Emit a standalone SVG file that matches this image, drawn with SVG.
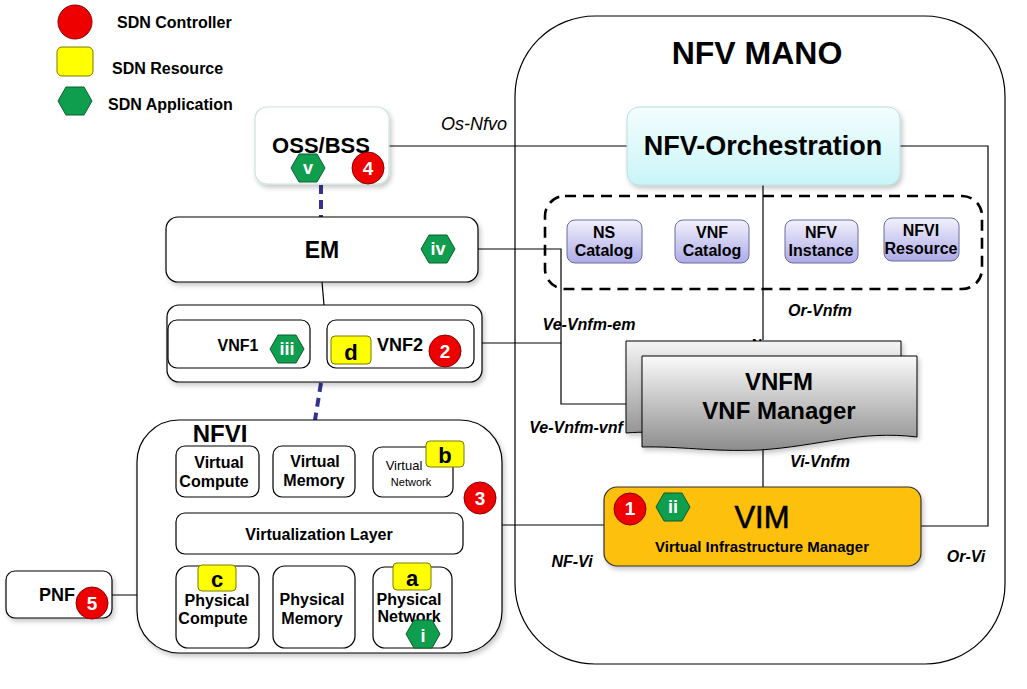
<svg xmlns="http://www.w3.org/2000/svg" width="1027" height="689" viewBox="0 0 1027 689">
<defs>
<style>
text{font-family:"Liberation Sans",Arial,sans-serif;fill:#000}
.b{font-weight:bold}
.lbl{font-style:italic;font-weight:bold;font-size:16px}
.box{fill:#fff;stroke:#000;stroke-width:1.2}
.ln{fill:none;stroke:#000;stroke-width:1.2}
.yel{fill:#ffff00;stroke:#7a7a00;stroke-width:1}
.red{fill:#ee0000;stroke:#8a0000;stroke-width:1}
.hexs{fill:#0f9d4e;stroke:#0a5e2e;stroke-width:1}
.num{fill:#fff;font-weight:bold;font-size:19px;text-anchor:middle}
.hnum{fill:#fff;font-weight:bold;font-size:18px;text-anchor:middle}
.cat{fill:url(#gcat);stroke:#6a6aa0;stroke-width:1}
.catt{font-weight:bold;font-size:16px;text-anchor:middle}
.comp{font-weight:bold;font-size:16px;text-anchor:middle}
.dash{fill:none;stroke:#33338f;stroke-width:4;stroke-dasharray:9 6}
</style>
<linearGradient id="gorch" x1="0" y1="0" x2="0" y2="1"><stop offset="0" stop-color="#f4fdfd"/><stop offset="1" stop-color="#c9f5f8"/></linearGradient>
<linearGradient id="gcat" x1="0" y1="0" x2="0" y2="1"><stop offset="0" stop-color="#f2f1fc"/><stop offset="1" stop-color="#adaae6"/></linearGradient>
<linearGradient id="gdoc" x1="0" y1="0" x2="0" y2="1"><stop offset="0" stop-color="#fafafa"/><stop offset="1" stop-color="#8c8c8c"/></linearGradient>
<linearGradient id="gdoc2" x1="0" y1="0" x2="0" y2="1"><stop offset="0" stop-color="#f5f5f5"/><stop offset="1" stop-color="#909090"/></linearGradient>
<filter id="sh" x="-10%" y="-10%" width="130%" height="140%"><feDropShadow dx="2" dy="3" stdDeviation="2.5" flood-color="#000" flood-opacity="0.22"/></filter>
<polygon id="hex" points="-17,0 -9,-14 9,-14 17,0 9,14 -9,14"/>
</defs>
<rect width="1027" height="689" fill="#fff"/>

<g id="legend">
<circle class="red" cx="75" cy="22" r="17"/>
<text class="b" x="117" y="28" font-size="16">SDN Controller</text>
<rect class="yel" x="57" y="47" width="36" height="29" rx="5"/>
<text class="b" x="112" y="74" font-size="16">SDN Resource</text>
<use href="#hex" x="75" y="101" class="hexs"/>
<text class="b" x="108" y="110" font-size="16">SDN Application</text>
</g>

<g id="mano">
<rect x="515" y="16" width="490" height="648" rx="80" fill="#fff" stroke="#000" stroke-width="1.2"/>
<text class="b" x="757" y="64" font-size="32" text-anchor="middle">NFV MANO</text>
</g>

<g id="connectors">
<polyline class="ln" points="389,146 627,146"/>
<polyline class="ln" points="900,146 988,146 988,526 921,526" stroke="#666"/>
<polyline class="ln" points="763,185 763,340"/>
<polyline class="ln" points="478,249 561,249 561,404 642,404"/>
<polyline class="ln" points="482,343 561,343"/>
<polyline class="ln" points="763,447 763,487"/>
<polyline class="ln" points="502,525 604,525"/>
<polyline class="ln" points="322,282 324,305"/>
<polyline class="ln" points="112,595 160,595"/>
<line class="dash" x1="321" y1="185" x2="321" y2="217"/>
<line class="dash" x1="321" y1="383" x2="315" y2="420"/>
<text x="474" y="130" font-size="18" font-style="italic" text-anchor="middle">Os-Nfvo</text>
<text class="lbl" x="820" y="316" text-anchor="middle">Or-Vnfm</text>
<text class="lbl" x="589" y="330" text-anchor="middle">Ve-Vnfm-em</text>
<text class="lbl" x="576" y="433" text-anchor="middle">Ve-Vnfm-vnf</text>
<text class="lbl" x="820" y="467" text-anchor="middle">Vi-Vnfm</text>
<text class="lbl" x="572" y="567" text-anchor="middle">NF-Vi</text>
<text class="lbl" x="966" y="562" text-anchor="middle">Or-Vi</text>
</g>

<g id="orchestration">
<rect x="627" y="107" width="273" height="78" rx="12" fill="url(#gorch)" stroke="#b8dede" stroke-width="1" filter="url(#sh)"/>
<text class="b" x="763" y="155" font-size="27" text-anchor="middle">NFV-Orchestration</text>
</g>

<g id="repositories">
<rect x="545" y="196" width="437" height="93" rx="20" fill="none" stroke="#000" stroke-width="2.6" stroke-dasharray="11 7"/>
<g id="ns-catalog"><rect class="cat" x="567" y="220" width="75" height="43" rx="8"/><text class="catt" x="604" y="238">NS</text><text class="catt" x="604" y="256">Catalog</text></g>
<g id="vnf-catalog"><rect class="cat" x="675" y="220" width="74" height="43" rx="8"/><text class="catt" x="712" y="238">VNF</text><text class="catt" x="712" y="256">Catalog</text></g>
<g id="nfv-instance"><rect class="cat" x="785" y="220" width="73" height="43" rx="8"/><text class="catt" x="821" y="238">NFV</text><text class="catt" x="821" y="256">Instance</text></g>
<g id="nfvi-resource"><rect class="cat" x="884" y="218" width="75" height="43" rx="8"/><text class="catt" x="921" y="236">NFVI</text><text class="catt" x="921" y="254">Resource</text></g>
</g>

<g id="vnfm">
<text class="b" x="757" y="349" font-size="14" text-anchor="middle">N</text>
<path d="M626,341 H901 V428 C840,424 800,440 740,438 C690,436 660,430 626,433 Z" fill="url(#gdoc2)" stroke="#000" stroke-width="1" filter="url(#sh)"/>
<path d="M642,356 H917 V437 C860,430 820,446 760,450 C710,452 680,446 642,447 Z" fill="url(#gdoc)" stroke="#000" stroke-width="1" filter="url(#sh)"/>
<text class="b" x="779" y="390" font-size="24" text-anchor="middle">VNFM</text>
<text class="b" x="779" y="419" font-size="24" text-anchor="middle">VNF Manager</text>
</g>

<g id="vim">
<rect x="604" y="487" width="317" height="79" rx="13" fill="#fcc00a" stroke="#333" stroke-width="1.2" filter="url(#sh)"/>
<circle class="red" cx="630" cy="509" r="16"/><text class="num" x="630" y="515" font-size="14">1</text>
<use href="#hex" x="673" y="507" class="hexs"/><text class="hnum" x="673" y="513">ii</text>
<text x="762" y="528" font-size="31" text-anchor="middle" stroke="#000" stroke-width="0.6">VIM</text>
<text class="b" x="762" y="552" font-size="15" text-anchor="middle">Virtual Infrastructure Manager</text>
</g>

<g id="oss-bss">
<rect x="255" y="107" width="134" height="77" rx="12" fill="#fff" stroke="#c8e6d8" stroke-width="1.2" filter="url(#sh)"/>
<text class="b" x="321" y="153" font-size="22" text-anchor="middle">OSS/BSS</text>
<use href="#hex" x="308" y="168" class="hexs"/><text class="hnum" x="308" y="174">v</text>
<circle class="red" cx="368" cy="168" r="16"/><text class="num" x="368" y="175">4</text>
</g>

<g id="em">
<rect class="box" x="166" y="217" width="312" height="65" rx="12" filter="url(#sh)"/>
<text class="b" x="322" y="258" font-size="23" text-anchor="middle">EM</text>
<use href="#hex" x="438" y="249" class="hexs"/><text class="hnum" x="438" y="255">iv</text>
</g>

<g id="vnf-group">
<rect class="box" x="167" y="305" width="315" height="77" rx="12" filter="url(#sh)"/>
<g id="vnf1"><rect class="box" x="168" y="320" width="142" height="48" rx="9"/>
<text class="b" x="238" y="351" font-size="16" text-anchor="middle">VNF1</text>
<use href="#hex" x="287" y="349" class="hexs"/><text class="hnum" x="287" y="355" font-size="16">iii</text></g>
<g id="vnf2"><rect class="box" x="327" y="320" width="147" height="48" rx="9"/>
<rect class="yel" x="331" y="336" width="40" height="28" rx="4"/><text class="b" x="351" y="360" font-size="22" text-anchor="middle">d</text>
<text class="b" x="400" y="351" font-size="18" text-anchor="middle">VNF2</text>
<circle class="red" cx="445" cy="351" r="16"/><text class="num" x="445" y="358">2</text></g>
</g>

<g id="nfvi">
<rect class="box" x="137" y="420" width="365" height="233" rx="42" filter="url(#sh)"/>
<text class="b" x="220" y="442" font-size="24" text-anchor="middle">NFVI</text>
<g id="virtual-compute"><rect class="box" x="176" y="446" width="83" height="51" rx="9"/><text class="comp" x="219" y="468">Virtual</text><text class="comp" x="214" y="487">Compute</text></g>
<g id="virtual-memory"><rect class="box" x="273" y="446" width="82" height="51" rx="9"/><text class="comp" x="315" y="467">Virtual</text><text class="comp" x="314" y="486">Memory</text></g>
<g id="virtual-network"><rect class="box" x="373" y="447" width="80" height="50" rx="9"/><text x="404" y="470" font-size="13" text-anchor="middle">Virtual</text><text x="411" y="486" font-size="11" text-anchor="middle">Network</text>
<rect class="yel" x="426" y="441" width="38" height="26" rx="4"/><text class="b" x="445" y="463" font-size="22" text-anchor="middle">b</text></g>
<g id="virtualization-layer"><rect class="box" x="176" y="513" width="287" height="41" rx="9"/><text class="comp" x="319" y="540">Virtualization Layer</text></g>
<g id="physical-compute"><rect class="box" x="176" y="566" width="83" height="82" rx="12"/>
<rect class="yel" x="198" y="565" width="38" height="26" rx="4"/><text class="b" x="217" y="587" font-size="22" text-anchor="middle">c</text>
<text class="comp" x="217" y="606">Physical</text><text class="comp" x="213" y="624">Compute</text></g>
<g id="physical-memory"><rect class="box" x="273" y="566" width="82" height="82" rx="12"/><text class="comp" x="312" y="605">Physical</text><text class="comp" x="312" y="624">Memory</text></g>
<g id="physical-network"><rect class="box" x="373" y="567" width="79" height="81" rx="12"/>
<rect class="yel" x="393" y="563" width="38" height="27" rx="4"/><text class="b" x="412" y="586" font-size="22" text-anchor="middle">a</text>
<text class="comp" x="409" y="605">Physical</text><text class="comp" x="409" y="622">Network</text>
<use href="#hex" x="423" y="634" class="hexs"/><text class="hnum" x="423" y="642" font-size="17">i</text></g>
<circle class="red" cx="480" cy="498" r="16"/><text class="num" x="480" y="505">3</text>
</g>

<g id="pnf">
<rect class="box" x="6" y="571" width="106" height="47" rx="9" filter="url(#sh)"/>
<text class="b" x="57" y="601" font-size="18" text-anchor="middle">PNF</text>
<circle class="red" cx="92" cy="603" r="16"/><text class="num" x="92" y="610">5</text>
</g>
</svg>
